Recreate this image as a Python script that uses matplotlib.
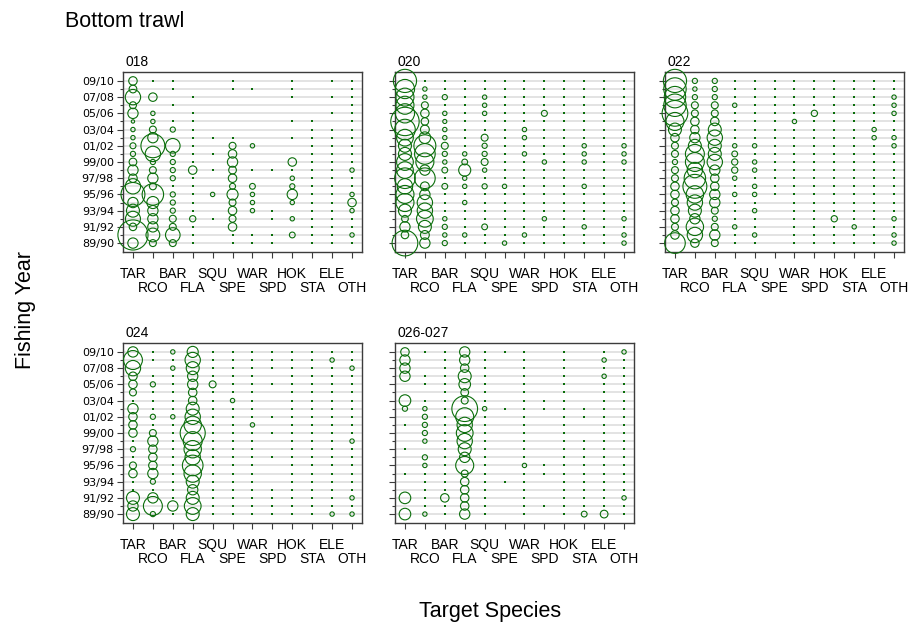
import matplotlib
matplotlib.use("Agg")
import matplotlib.pyplot as plt
import numpy as np

# Target species (x axis) and fishing years (y axis, bottom to top)
species = ["TAR", "RCO", "BAR", "FLA", "SQU", "SPE", "WAR", "SPD", "HOK", "STA", "ELE", "OTH"]
years = ["89/90", "90/91", "91/92", "92/93", "93/94", "94/95", "95/96", "96/97",
         "97/98", "98/99", "99/00", "00/01", "01/02", "02/03", "03/04", "04/05",
         "05/06", "06/07", "07/08", "08/09", "09/10"]

# Percentage of catch by target species, one list per species (89/90 -> 09/10)
area_018 = {
    "TAR": [9.5, 81, 5, 20, 15, 9.5, 51, 21, 6.4, 9.5, 5.3, 2.4, 3.2, 1.7, 1.7, 1, 9.5, 4.3, 21, 5.3, 6.4],
    "RCO": [4.3, 17, 9.5, 9.5, 9.5, 13, 41, 4.3, 9.5, 4.3, 2.4, 21, 51, 9.5, 4.3, 1.7, 1.7, 0, 6.4, 0, 0.1],
    "BAR": [4.3, 19, 4.3, 4.3, 2.4, 2.4, 2.4, 0.1, 2.4, 2.4, 2.4, 2.4, 19, 0, 2.4, 0.1, 0, 0.1, 0, 0.1, 0.1],
    "FLA": [0.1, 0.1, 0.1, 3.5, 0.1, 0.1, 0.1, 0.1, 0.1, 6.4, 0.1, 0.1, 0.1, 0.1, 0.1, 0.1, 0.1, 0, 0.1, 0, 0],
    "SQU": [0, 0, 0, 0.1, 0, 0, 1.7, 0, 0, 0.1, 0, 0.1, 0, 0.1, 0, 0, 0, 0, 0, 0, 0],
    "SPE": [0.1, 0.1, 6.4, 4.3, 6.4, 4.3, 11, 3.2, 6.4, 5.3, 9.5, 6.4, 4.3, 0.1, 0, 0, 0, 0, 0, 0.1, 0.1],
    "WAR": [0.1, 0.1, 0, 0, 1.7, 1.7, 1.7, 3, 0, 0.1, 0, 0, 1.7, 0, 0, 0, 0, 0, 0, 0.1, 0],
    "SPD": [0.1, 0.1, 0, 0.1, 0.1, 0, 0, 0, 0, 0.1, 0, 0, 0, 0, 0, 0, 0, 0, 0, 0, 0],
    "HOK": [0, 3, 0, 1.7, 0, 1.7, 9.5, 2.4, 1.7, 0.1, 6.4, 0, 0, 0.1, 0, 0.1, 0, 0, 0.1, 0.1, 0.1],
    "STA": [0.1, 0.1, 0.1, 0.1, 0.1, 0.1, 0.1, 0.1, 0.1, 0.1, 0.1, 0.1, 0.1, 0.1, 0.1, 0.1, 0, 0, 0, 0, 0],
    "ELE": [0.1, 0.1, 0.1, 0.1, 0.1, 0.1, 0.1, 0.1, 0.1, 0.1, 0.1, 0.1, 0.1, 0.1, 0.1, 0, 0.1, 0, 0.1, 0, 0.1],
    "OTH": [0.1, 1.7, 0.1, 0.1, 1.7, 6.4, 1.7, 0.1, 0.1, 1.7, 0.1, 0.1, 0.1, 0.1, 0.1, 0.1, 0.1, 0.1, 0.1, 0.1, 0.1],
}

area_020 = {
    "TAR": [59, 5, 9.5, 4, 15, 29, 29, 21, 38, 25, 25, 15, 15, 25, 38, 72, 33, 29, 29, 33, 48],
    "RCO": [9.5, 7, 15, 25, 21, 21, 9.5, 7, 38, 9.5, 29, 38, 43, 12, 7, 5, 6.4, 4.3, 1.7, 1.7, 0.1],
    "BAR": [2.4, 1.7, 2.4, 1.7, 0.1, 0.1, 0.1, 3, 0.1, 3, 1.7, 2.4, 4.3, 1.7, 1.7, 1.5, 1.7, 0.1, 2.4, 0.1, 0.1],
    "FLA": [0.1, 1.7, 0.1, 0.1, 0.1, 1.7, 0.1, 1.7, 1.7, 13, 3, 1.7, 0.1, 0.1, 0.1, 0.1, 0.1, 0.1, 0.1, 0.1, 0.1],
    "SQU": [0.1, 0.1, 3, 0.1, 0.1, 0.1, 0.1, 2.4, 0.1, 1.7, 4.3, 2.4, 2.4, 4.3, 0.1, 0.1, 1.7, 1.7, 1.7, 0.1, 0.1],
    "SPE": [1.7, 0.1, 0.1, 0.1, 0.1, 0.1, 0.1, 1.7, 0.1, 0.1, 0.1, 0.1, 0.1, 0.1, 0.1, 0.1, 0.1, 0.1, 0.1, 0.1, 0.1],
    "WAR": [0.1, 1.7, 0.1, 0.1, 0.1, 0.1, 0.1, 0.1, 0.1, 0.1, 0.1, 1.7, 0.1, 1.7, 1.7, 0.1, 0.1, 0.1, 0.1, 0.1, 0.1],
    "SPD": [0.1, 0.1, 0.1, 1.7, 0.1, 0.1, 0.1, 0.1, 0.1, 0.1, 1.7, 0.1, 0.1, 0.1, 0.1, 0.1, 3.2, 0.1, 0.1, 0.1, 0.1],
    "HOK": [0.1, 0.1, 0.1, 0.1, 0.1, 0.1, 0.1, 0.1, 0.1, 0.1, 0.1, 0.1, 0.1, 0.1, 0.1, 0.1, 0.1, 0.1, 0.1, 0.1, 0.1],
    "STA": [0.1, 0.1, 1.7, 0.1, 0.1, 0.1, 0.1, 1.7, 0.1, 0.1, 1.7, 1.7, 1.7, 0.1, 0.1, 0.1, 0.1, 0.1, 0.1, 0.1, 0.1],
    "ELE": [0.1, 0.1, 0.1, 0.1, 0.1, 0.1, 0.1, 0.1, 0.1, 0.1, 0.1, 0.1, 0.1, 0.1, 0.1, 0.1, 0.1, 0.1, 0.1, 0.1, 0.1],
    "OTH": [1.7, 1.7, 0.1, 1.7, 0.1, 0.1, 0.1, 0.1, 0.1, 0.1, 1.7, 1.7, 1.7, 0.1, 0.1, 0.1, 0.1, 0.1, 0.1, 0.1, 0.1],
}

area_022 = {
    "TAR": [38, 6.4, 4.3, 6.4, 6.4, 4.3, 6.4, 6.4, 4.3, 4.3, 2.4, 4.3, 4.3, 6.4, 15, 29, 59, 45, 41, 45, 48],
    "RCO": [6.4, 21, 27, 9.5, 15, 21, 27, 51, 41, 21, 32, 32, 15, 9.5, 6.4, 6.4, 4.3, 4.3, 2.4, 1.7, 2.4],
    "BAR": [4.3, 9.5, 4.3, 2.4, 4.3, 9.5, 9.5, 6.4, 6.4, 9.5, 21, 15, 15, 21, 15, 6.4, 4.3, 4.3, 2.4, 2.4, 2.4],
    "FLA": [0.1, 0.1, 1.7, 0.1, 0.1, 0.1, 1.7, 0.1, 1.7, 3.5, 3.5, 3, 1.7, 0.1, 0.1, 0.1, 0.1, 1.7, 0.1, 0.1, 0.1],
    "SQU": [0.1, 1.7, 0.1, 0.1, 1.7, 0.1, 1.7, 1.7, 0.1, 1.7, 1.7, 0.1, 1.7, 0.1, 0.1, 0.1, 0.1, 0.1, 0.1, 0.1, 0.1],
    "SPE": [0, 0, 0, 0, 0, 0, 0.1, 0.1, 0.1, 0.1, 0.1, 0.1, 0.1, 0.1, 0.1, 0.1, 0.1, 0.1, 0.1, 0.1, 0.1],
    "WAR": [0.1, 0.1, 0.1, 0.1, 0.1, 0.1, 0.1, 0.1, 0.1, 0.1, 0.1, 0.1, 0.1, 0.1, 0.1, 1.7, 0.1, 0.1, 0.1, 0.1, 0.1],
    "SPD": [0.1, 0.1, 0.1, 0.1, 0.1, 0.1, 0.1, 0.1, 0.1, 0.1, 0.1, 0.1, 0.1, 0.1, 0.1, 0.1, 3.5, 0.1, 0.1, 0.1, 0.1],
    "HOK": [0.1, 0.1, 0.1, 3.5, 0.1, 0.1, 0.1, 0.1, 0.1, 0.1, 0.1, 0.1, 0.1, 0.1, 0.1, 0.1, 0.1, 0.1, 0.1, 0.1, 0.1],
    "STA": [0.1, 0.1, 1.7, 0.1, 0.1, 0.1, 0.1, 0.1, 0.1, 0.1, 0.1, 0.1, 0.1, 0.1, 0.1, 0.1, 0.1, 0.1, 0.1, 0.1, 0.1],
    "ELE": [0.1, 0.1, 0.1, 0.1, 0.1, 0.1, 0.1, 0.1, 0.1, 0.1, 0.1, 0.1, 0.1, 1.7, 1.7, 0.1, 0.1, 0.1, 0.1, 0.1, 0.1],
    "OTH": [1.7, 1.7, 0.1, 1.7, 0.1, 0.1, 0.1, 0.1, 0.1, 0.1, 0.1, 0.1, 1.7, 1.7, 0.1, 0.1, 1.7, 1.7, 1.7, 0.1, 0.1],
}

area_024 = {
    "TAR": [15, 9.5, 15, 0.1, 0.1, 6.4, 4.3, 0.1, 2.4, 0.1, 6.4, 6.4, 6.4, 9.5, 0.1, 4.3, 6.4, 6.4, 21, 32, 9.5],
    "RCO": [2.4, 32, 9.5, 0.1, 2.4, 9.5, 6.4, 6.4, 6.4, 9.5, 4.3, 0.1, 2.4, 0.1, 0.1, 0.1, 2.4, 0.1, 0, 0.1, 0.1],
    "BAR": [0.1, 9.5, 0.1, 0.1, 0.1, 0.1, 0.1, 0.1, 0.1, 0.1, 0.1, 0.1, 1.7, 0.1, 0.1, 0.1, 0.1, 0.1, 1.7, 0.1, 1.7],
    "FLA": [15, 25, 15, 9.5, 15, 27, 38, 21, 27, 32, 56, 27, 21, 15, 6.4, 6.4, 9.5, 9.5, 15, 21, 11],
    "SQU": [0.1, 0.1, 0.1, 0.1, 0.1, 0.1, 0.1, 0.1, 0.1, 0.1, 0.1, 0.1, 0.1, 0.1, 0.1, 0.1, 4.3, 0.1, 0.1, 0.1, 0.1],
    "SPE": [0.1, 0.1, 0.1, 0.1, 0.1, 0.1, 0.1, 0.1, 0.1, 0.1, 0.1, 0.1, 0.1, 0.1, 1.7, 0.1, 0.1, 0.1, 0.1, 0.1, 0.1],
    "WAR": [0.1, 0.1, 0.1, 0.1, 0.1, 0.1, 0.1, 0.1, 0.1, 0.1, 0.1, 1.7, 0.1, 0.1, 0.1, 0.1, 0.1, 0.1, 0.1, 0.1, 0.1],
    "SPD": [0.1, 0.1, 0.1, 0.1, 0, 0, 0, 0.1, 0, 0, 0.1, 0, 0.1, 0, 0, 0, 0.1, 0, 0.1, 0.1, 0.1],
    "HOK": [0.1, 0.1, 0.1, 0.1, 0.1, 0.1, 0.1, 0.1, 0.1, 0.1, 0.1, 0.1, 0.1, 0.1, 0.1, 0.1, 0.1, 0.1, 0.1, 0.1, 0.1],
    "STA": [0.1, 0.1, 0.1, 0.1, 0.1, 0.1, 0.1, 0.1, 0.1, 0.1, 0.1, 0.1, 0.1, 0.1, 0.1, 0.1, 0.1, 0.1, 0.1, 0.1, 0.1],
    "ELE": [1.7, 0.1, 0.1, 0.1, 0.1, 0.1, 0.1, 0.1, 0.1, 0.1, 0.1, 0.1, 0.1, 0.1, 0.1, 0.1, 0.1, 0.1, 0.1, 1.7, 0.1],
    "OTH": [1.7, 0.1, 1.7, 0.1, 0.1, 0.1, 0.1, 0.1, 0.1, 1.7, 0.1, 0.1, 0.1, 0.1, 0.1, 0.1, 0.1, 0.1, 1.7, 0.1, 0.1],
}

area_026_027 = {
    "TAR": [12, 0, 12, 0, 0, 0.1, 0, 0, 0.1, 0, 0, 0.1, 0, 2.4, 12, 0, 0, 9.5, 9.5, 9.5, 6.4],
    "RCO": [1.7, 0.1, 0.1, 0.1, 0.1, 0.1, 1.7, 2.4, 0, 1.7, 2.4, 2.4, 2.4, 1.7, 0.1, 0, 0.1, 0.1, 0, 0, 0.1],
    "BAR": [0.1, 0.1, 6.4, 0.1, 0.1, 0.1, 0.1, 0.1, 0.1, 0.1, 0.1, 0.1, 0.1, 0.1, 0.1, 0.1, 0.1, 0.1, 0.1, 0.1, 0.1],
    "FLA": [9.5, 6.4, 6.4, 6.4, 6.4, 4.3, 29, 9.5, 15, 21, 25, 21, 29, 59, 4.3, 5.3, 12, 15, 6.4, 9.5, 9.5],
    "SQU": [0.1, 0.1, 0.1, 0.1, 0.1, 0.1, 0.1, 0.1, 0.1, 0.1, 0.1, 0.1, 0.1, 1.7, 0.1, 0.1, 0.1, 0.1, 0.1, 0.1, 0.1],
    "SPE": [0, 0, 0, 0, 0.1, 0, 0, 0, 0, 0, 0, 0, 0, 0.1, 0, 0, 0, 0, 0, 0, 0.1],
    "WAR": [0.1, 0.1, 0.1, 0.1, 0.1, 0.1, 1.7, 0.1, 0.1, 0.1, 0.1, 0.1, 0.1, 0.1, 0.1, 0.1, 0.1, 0.1, 0.1, 0.1, 0.1],
    "SPD": [0, 0.1, 0, 0, 0, 0.1, 0.1, 0, 0, 0, 0, 0, 0, 0.1, 0.1, 0, 0, 0, 0, 0, 0],
    "HOK": [0.1, 0.1, 0.1, 0.1, 0.1, 0.1, 0.1, 0.1, 0.1, 0.1, 0.1, 0.1, 0.1, 0.1, 0.1, 0.1, 0.1, 0.1, 0.1, 0.1, 0.1],
    "STA": [3, 0.1, 0.1, 0.1, 0.1, 0.1, 0.1, 0.1, 0.1, 0.1, 0, 0, 0.1, 0.1, 0, 0, 0, 0, 0, 0, 0],
    "ELE": [5.3, 0.1, 0.1, 0.1, 0.1, 0.1, 0.1, 0.1, 0.1, 0.1, 0.1, 0.1, 0.1, 0.1, 0.1, 0.1, 0.1, 1.7, 0.1, 1.7, 0.1],
    "OTH": [0.1, 0.1, 1.7, 0.1, 0.1, 0.1, 0.1, 0.1, 0.1, 0.1, 0.1, 0.1, 0.1, 0.1, 0.1, 0.1, 0.1, 0.1, 0.1, 0.1, 1.7],
}

panel_names = ["018", "020", "022", "024", "026-027"]
panel_data = [area_018, area_020, area_022, area_024, area_026_027]

# Layout of the panels in pixels: (left, top) of each plotting box
W, H = 910, 627
BOX_W, BOX_H = 239, 180
box_origin = [(123, 72), (395, 72), (665, 72), (123, 343), (395, 343)]
show_year_labels = [True, False, False, True, False]

GREEN = "#0b6e0b"
FRAME = "#3c3c3c"
GRID = "#e1e1e1"
LABEL_FONT = ["Liberation Sans", "DejaVu Sans"]
AREA_SCALE = 5.8   # marker area (pt^2) per percentage point

fig = plt.figure(figsize=(W / 100, H / 100), dpi=100)
fig.patch.set_facecolor("white")

rows = np.arange(len(years))
for name, data, (x0, y0), ylab in zip(panel_names, panel_data, box_origin, show_year_labels):
    ax = fig.add_axes([x0 / W, 1 - (y0 + BOX_H) / H, BOX_W / W, BOX_H / H])
    ax.set_xlim(-0.5, len(species) - 0.5)
    ax.set_ylim(-1.1, len(years) - 1 + 1.1)

    for j, sp in enumerate(species):
        vals = np.asarray(data[sp], dtype=float)
        ring = vals >= 0.5
        trace = (vals > 0) & (vals < 0.5)
        if ring.any():
            ax.scatter(np.full(ring.sum(), j), rows[ring], s=AREA_SCALE * vals[ring],
                       facecolors="none", edgecolors=GREEN, linewidths=0.8,
                       clip_on=False, zorder=3)
        if trace.any():
            ax.scatter(np.full(trace.sum(), j), rows[trace], s=1.6, marker="s",
                       color=GREEN, linewidths=0, clip_on=False, zorder=3)

    # x axis: species labels staggered over two lines
    ax.set_xticks(np.arange(0, len(species), 2))
    ax.set_xticklabels(species[0::2], fontfamily=LABEL_FONT, fontsize=10)
    ax.set_xticks(np.arange(1, len(species), 2), minor=True)
    ax.set_xticklabels(species[1::2], minor=True, fontfamily=LABEL_FONT, fontsize=10)
    ax.tick_params(axis="x", which="major", length=4.5, width=0.8, color=FRAME, pad=6.3)
    ax.tick_params(axis="x", which="minor", length=4.5, width=0.8, color=FRAME, pad=16.2)

    # y axis: every second fishing year labelled
    ax.set_yticks(rows[0::2])
    ax.set_yticks(rows[1::2], minor=True)
    if ylab:
        ax.set_yticklabels(years[0::2], fontsize=8)
    else:
        ax.set_yticklabels([])
    ax.tick_params(axis="y", which="major", length=4, width=0.8, color=FRAME, pad=2.5)
    ax.tick_params(axis="y", which="minor", length=2, width=0.8, color=FRAME)

    ax.grid(axis="y", which="both", color=GRID, linewidth=1.3)
    ax.set_axisbelow(True)
    for sp in ax.spines.values():
        sp.set_color(FRAME)
        sp.set_linewidth(1.0)

    ax.text(0.012, 1.035, name, transform=ax.transAxes, ha="left", va="baseline",
            fontsize=10, fontfamily=LABEL_FONT)

fig.text(65 / W, 1 - 27 / H, "Bottom trawl", ha="left", va="baseline",
         fontsize=15.5, fontfamily=LABEL_FONT)
fig.text(25 / W, 1 - 310 / H, "Fishing Year", rotation=90, ha="center", va="center",
         fontsize=15.5, fontfamily=LABEL_FONT)
fig.text(490 / W, 1 - 611 / H, "Target Species", ha="center", va="center",
         fontsize=15.5, fontfamily=LABEL_FONT)

fig.savefig("out.png", dpi=100)
